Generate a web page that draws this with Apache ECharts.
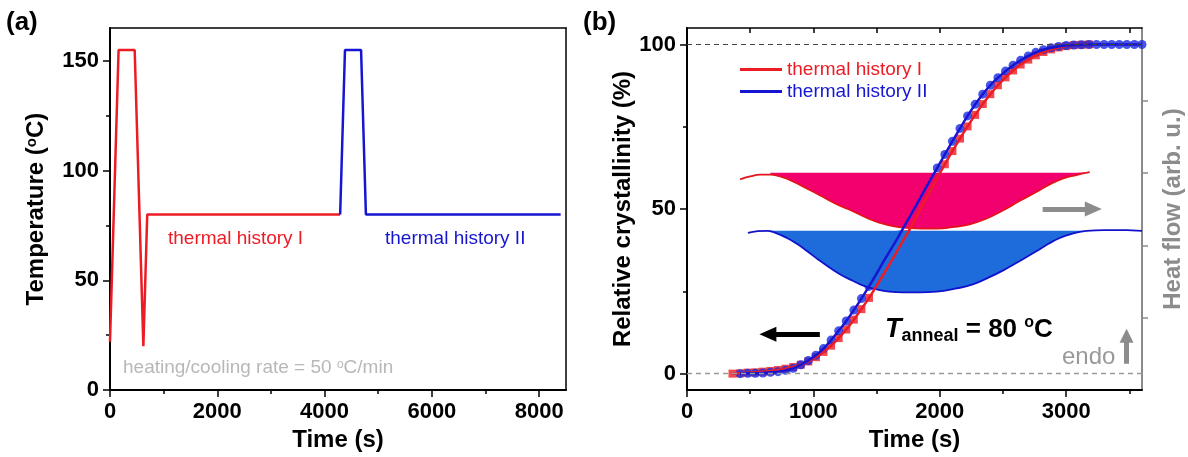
<!DOCTYPE html>
<html>
<head>
<meta charset="utf-8">
<title>Isothermal crystallization</title>
<script src="https://cdn.jsdelivr.net/npm/echarts@6.0.0/dist/echarts.min.js"></script>
<style>
  html, body { margin: 0; padding: 0; background: #fff; }
  #main { width: 1188px; height: 457px; }
</style>
</head>
<body>
<div id="main"></div>
<script>
// (a) temperature programs (s, degC)
var progTimeI = [0, 160, 460, 622, 694, 4290]
var progTempI = [22, 155, 155, 20, 80, 80]
var progTimeII = [4290, 4380, 4680, 4770, 8400]
var progTempII = [80, 155, 155, 80, 80]

// (b) relative crystallinity (%) vs time (s)
var timeI = [360, 420, 480, 540, 600, 660, 720, 780, 840, 900, 960, 1020, 1080, 1140, 1200, 1260,
  1320, 1380, 1440, 1500, 1560, 1620, 1680, 1740, 1800, 1860, 1920, 1980, 2040, 2100, 2160, 2220,
  2280, 2340, 2400, 2460, 2520, 2580, 2640, 2700, 2760, 2820, 2880, 2940, 3000, 3060, 3120, 3180]
var crystI = [0, 0.1, 0.3, 0.4, 0.6, 0.8, 1.1, 1.5, 2.0, 2.7, 3.7, 5.0, 6.6, 8.5, 10.8, 13.4,
  16.4, 19.6, 23.0, 26.7, 30.5, 34.4, 38.4, 42.4, 46.5, 51.0, 55.2, 59.5, 63.6, 67.6, 71.4, 75.1,
  78.6, 81.9, 84.9, 87.6, 90.0, 92.1, 93.9, 95.4, 96.7, 97.7, 98.5, 99.1, 99.5, 99.8, 99.9, 100]
var timeII = [420, 480, 540, 600, 660, 720, 780, 840, 900, 960, 1020, 1080, 1140, 1200, 1260, 1320,
  1380, 1440, 1500, 1560, 1620, 1680, 1740, 1800, 1860, 1920, 1980, 2040, 2100, 2160, 2220, 2280,
  2340, 2400, 2460, 2520, 2580, 2640, 2700, 2760, 2820, 2880, 2940, 3000, 3060, 3120, 3180, 3240,
  3300, 3360, 3420, 3480, 3540, 3600]
var crystII = [0, 0.1, 0.1, 0.2, 0.4, 0.6, 1.0, 1.6, 2.7, 4.0, 5.6, 7.6, 10.2, 13.0, 16.0, 19.3,
  22.8, 26.5, 30.4, 34.4, 38.2, 42.1, 46.2, 50.2, 54.4, 58.5, 62.5, 66.6, 70.6, 74.5, 78.3, 81.8,
  84.9, 87.6, 89.9, 91.9, 93.7, 95.2, 96.5, 97.6, 98.4, 99.0, 99.4, 99.7, 99.8, 99.9, 100, 100,
  100, 100, 100, 100, 100, 100]

// (b) DSC heat flow traces (arb. u.)
var dscTimeI = [420, 500, 580, 660, 740, 791, 920, 1051, 1180, 1312, 1420, 1526, 1640, 1739, 1860,
  1976, 2100, 2237, 2370, 2498, 2630, 2767, 2870, 2972, 3080, 3186]
var dscFlowI = [2.91, 2.95, 2.975, 2.975, 2.95, 2.92, 2.81, 2.69, 2.57, 2.47, 2.38, 2.31, 2.26, 2.24, 2.23,
  2.23, 2.25, 2.29, 2.37, 2.48, 2.61, 2.74, 2.84, 2.92, 2.97, 3.01]
var dscTimeII = [482, 560, 632, 700, 791, 870, 949, 1040, 1130, 1220, 1312, 1400, 1502, 1600, 1708,
  1840, 1976, 2120, 2261, 2380, 2498, 2630, 2767, 2860, 2949, 3050, 3162, 3300, 3423, 3520, 3600]
var dscFlowII = [2.17, 2.195, 2.2, 2.17, 2.1, 2.02, 1.92, 1.8, 1.69, 1.59, 1.51, 1.44, 1.39, 1.36, 1.35,
  1.35, 1.36, 1.4, 1.46, 1.55, 1.65, 1.78, 1.92, 2.02, 2.1, 2.16, 2.2, 2.21, 2.21, 2.205, 2.2]
var baseI = 3.0
var baseII = 2.2

// tick values
var tempTicks = [0, 50, 100, 150]
var tempMinor = [25, 75, 125]
var timeTicksA = [0, 2000, 4000, 6000, 8000]
var timeMinorA = [1000, 3000, 5000, 7000]
var crystTicks = [0, 50, 100]
var crystMinor = [25, 75]
var timeTicksB = [0, 1000, 2000, 3000]
var timeMinorB = [500, 1500, 2500, 3500]
var flowTicks = [1, 2, 3, 4]

var FONT = '"Liberation Sans", Arial, sans-serif'
var RED = '#ec1c24'
var BLUE = '#1616d2'

function zip (xs, ys) {
  return xs.map(function (x, i) { return [x, ys[i]] })
}

// main axis with labels, plus a bare overlay axis for the short minor ticks
function valueAxis (grid, pos, min, max, ticks, extra) {
  var a = {
    type: 'value', gridIndex: grid, position: pos, min: min, max: max,
    splitLine: { show: false },
    axisLine: { show: true, onZero: false, lineStyle: { color: '#000', width: 2 } },
    axisTick: { show: true, length: 7, customValues: ticks, lineStyle: { color: '#000', width: 1.5 } },
    axisLabel: { show: true, customValues: ticks, color: '#000', fontSize: 22, fontWeight: 'bold', fontFamily: FONT, margin: 11,
      formatter: function (v) { return String(v) } }
  }
  return Object.assign(a, extra || {})
}
function minorAxis (grid, pos, min, max, ticks, inside, color) {
  return {
    type: 'value', gridIndex: grid, position: pos, min: min, max: max,
    splitLine: { show: false },
    axisLine: { show: false, onZero: false },
    axisTick: { show: true, inside: !!inside, length: 4, customValues: ticks, lineStyle: { color: color || '#000', width: 1.5 } },
    axisLabel: { show: false }
  }
}
function borderAxis (grid, pos, min, max, ticks, color) {
  return {
    type: 'value', gridIndex: grid, position: pos, min: min, max: max,
    splitLine: { show: false },
    axisLine: { show: true, onZero: false, lineStyle: { color: color || '#000', width: 1.5 } },
    axisTick: ticks ? { show: true, inside: true, length: 5, customValues: ticks, lineStyle: { color: '#000', width: 1.5 } } : { show: false },
    axisLabel: { show: false }
  }
}

var nameStyle = { fontSize: 24, fontWeight: 'bold', fontFamily: FONT, color: '#000',
  rich: { sup: { fontSize: 15, fontWeight: 'bold', fontFamily: FONT, verticalAlign: 'top', lineHeight: 24 } } }

var chart = echarts.init(document.getElementById('main'))

var option = {
  animation: false,
  backgroundColor: '#fff',
  grid: [
    { left: 110, top: 28, width: 456, height: 366 },
    { left: 687, top: 28, width: 455, height: 366 }
  ],
  legend: {
    left: 735, top: 55, orient: 'vertical', itemWidth: 42, itemHeight: 3, itemGap: 3, icon: 'rect',
    textStyle: { fontSize: 19, fontFamily: FONT },
    data: [
      { name: 'thermal history I', textStyle: { color: RED } },
      { name: 'thermal history II', textStyle: { color: BLUE } }
    ]
  },
  xAxis: [
    valueAxis(0, 'bottom', 0, 8500, timeTicksA, { name: 'Time (s)', nameLocation: 'middle', nameGap: 35, nameTextStyle: nameStyle }),
    minorAxis(0, 'bottom', 0, 8500, timeMinorA),
    borderAxis(0, 'top', 0, 8500),
    valueAxis(1, 'bottom', 0, 3600, timeTicksB, { name: 'Time (s)', nameLocation: 'middle', nameGap: 35, nameTextStyle: nameStyle }),
    minorAxis(1, 'bottom', 0, 3600, timeMinorB),
    borderAxis(1, 'top', 0, 3600, timeTicksB.slice(1).concat(timeMinorB))
  ],
  yAxis: [
    valueAxis(0, 'left', 0, 165, tempTicks, { name: 'Temperature ({sup|o}C)', nameLocation: 'middle', nameGap: 62, nameTextStyle: nameStyle }),
    minorAxis(0, 'left', 0, 165, tempMinor),
    borderAxis(0, 'right', 0, 165),
    valueAxis(1, 'left', -5, 105, crystTicks, { name: 'Relative crystallinity (%)', nameLocation: 'middle', nameGap: 51, nameTextStyle: nameStyle }),
    minorAxis(1, 'left', -5, 105, crystMinor),
    {
      type: 'value', gridIndex: 1, position: 'right', min: 0, max: 5,
      name: 'Heat flow (arb. u.)', nameLocation: 'middle', nameGap: 19, nameRotate: 90,
      nameTextStyle: { fontSize: 24, fontWeight: 'bold', fontFamily: FONT, color: '#8c8c8c' },
      splitLine: { show: false },
      axisLine: { show: true, onZero: false, lineStyle: { color: '#8a8a8a', width: 2 } },
      axisTick: { show: true, length: 6, customValues: flowTicks, lineStyle: { color: '#8a8a8a', width: 1.5 } },
      axisLabel: { show: false }
    }
  ],
  series: [
    // (a)
    { name: 'program I', type: 'line', xAxisIndex: 0, yAxisIndex: 0, data: zip(progTimeI, progTempI),
      symbol: 'none', lineStyle: { color: RED, width: 2.5 } },
    { name: 'program II', type: 'line', xAxisIndex: 0, yAxisIndex: 0, data: zip(progTimeII, progTempII),
      symbol: 'none', lineStyle: { color: BLUE, width: 2.5 } },
    // (b) DSC fills and traces
    { name: 'dsc fill I', type: 'line', xAxisIndex: 3, yAxisIndex: 5, smooth: true, symbol: 'none',
      data: zip(dscTimeI, dscFlowI).filter(function (p) { return p[0] >= 660 }),
      lineStyle: { width: 0 }, areaStyle: { origin: baseI, color: '#f2006e', opacity: 1 } },
    { name: 'dsc I', type: 'line', xAxisIndex: 3, yAxisIndex: 5, smooth: true, symbol: 'none',
      data: zip(dscTimeI, dscFlowI), lineStyle: { color: '#e3141c', width: 1.8 } },
    { name: 'dsc fill II', type: 'line', xAxisIndex: 3, yAxisIndex: 5, smooth: true, symbol: 'none',
      data: zip(dscTimeII, dscFlowII).filter(function (p) { return p[0] >= 632 && p[0] <= 3162 }),
      lineStyle: { width: 0 }, areaStyle: { origin: baseII, color: '#1e6bdc', opacity: 1 } },
    { name: 'dsc II', type: 'line', xAxisIndex: 3, yAxisIndex: 5, smooth: true, symbol: 'none',
      data: zip(dscTimeII, dscFlowII), lineStyle: { color: '#1212cc', width: 1.8 } },
    // (b) crystallinity
    { name: 'thermal history I', type: 'line', xAxisIndex: 3, yAxisIndex: 3, smooth: 0.3, symbol: 'none',
      data: zip(timeI, crystI), lineStyle: { color: RED, width: 2.5 }, itemStyle: { color: RED },
      markLine: {
        silent: true, symbol: ['none', 'none'], label: { show: false },
        data: [
          { yAxis: 100, lineStyle: { color: '#444', type: [5, 4], width: 1 } },
          { yAxis: 0, lineStyle: { color: '#9a9a9a', type: [5, 4], width: 1.3 } },
          [{ coord: [1051, 12], symbol: 'none', lineStyle: { color: '#000', type: 'solid', width: 5 } },
            { coord: [640, 12], symbol: 'triangle', symbolSize: [15, 17] }],
          [{ coord: [2814, 50], symbol: 'none', lineStyle: { color: '#8c8c8c', type: 'solid', width: 5 } },
            { coord: [3215, 50], symbol: 'triangle', symbolSize: [15, 17] }],
          [{ coord: [3478, 3.0], symbol: 'none', lineStyle: { color: '#8c8c8c', type: 'solid', width: 5 } },
            { coord: [3478, 11.5], symbol: 'triangle', symbolSize: [14, 14] }]
        ]
      } },
    { name: 'points I', type: 'scatter', xAxisIndex: 3, yAxisIndex: 3, symbol: 'rect', symbolSize: 8,
      data: zip(timeI, crystI), itemStyle: { color: RED } },
    { name: 'thermal history II', type: 'line', xAxisIndex: 3, yAxisIndex: 3, smooth: 0.3, symbol: 'none',
      data: zip(timeII, crystII), lineStyle: { color: BLUE, width: 2.5 }, itemStyle: { color: BLUE } },
    { name: 'points II', type: 'scatter', xAxisIndex: 3, yAxisIndex: 3, symbol: 'circle', symbolSize: 9,
      data: zip(timeII, crystII), itemStyle: { color: '#1a2ce0' } }
  ],
  graphic: [
    { type: 'text', x: 6, y: 10, style: { text: '(a)', font: 'bold 26px ' + FONT, fill: '#000' } },
    { type: 'text', x: 583, y: 10, style: { text: '(b)', font: 'bold 26px ' + FONT, fill: '#000' } },
    { type: 'text', x: 168, y: 239, style: { text: 'thermal history I', font: '19px ' + FONT, fill: RED, verticalAlign: 'middle' } },
    { type: 'text', x: 385, y: 239, style: { text: 'thermal history II', font: '19px ' + FONT, fill: BLUE, verticalAlign: 'middle' } },
    { type: 'text', x: 123, y: 368, style: {
      text: 'heating/cooling rate = 50 {s|o}C/min', font: '19px ' + FONT, fill: '#b8b8b8', verticalAlign: 'middle',
      rich: { s: { fontSize: 12, fontFamily: FONT, fill: '#b8b8b8', verticalAlign: 'top', lineHeight: 19 } } } },
    { type: 'text', x: 885, y: 330, style: {
      text: '{t|T}{a|anneal}{n| = 80 }{s|o}{n|C}', verticalAlign: 'middle',
      rich: {
        t: { fontSize: 27, fontWeight: 'bold', fontStyle: 'italic', fontFamily: FONT, fill: '#000', lineHeight: 30, verticalAlign: 'middle' },
        a: { fontSize: 18, fontWeight: 'bold', fontFamily: FONT, fill: '#000', lineHeight: 30, verticalAlign: 'bottom', padding: [0, 0, 0, 0] },
        n: { fontSize: 26, fontWeight: 'bold', fontFamily: FONT, fill: '#000', lineHeight: 30, verticalAlign: 'middle' },
        s: { fontSize: 16, fontWeight: 'bold', fontFamily: FONT, fill: '#000', lineHeight: 30, verticalAlign: 'top' }
      } } },
    { type: 'text', x: 1062, y: 357, style: { text: 'endo', font: '24px ' + FONT, fill: '#999', verticalAlign: 'middle' } }
  ]
}

chart.setOption(option)
</script>
</body>
</html>
